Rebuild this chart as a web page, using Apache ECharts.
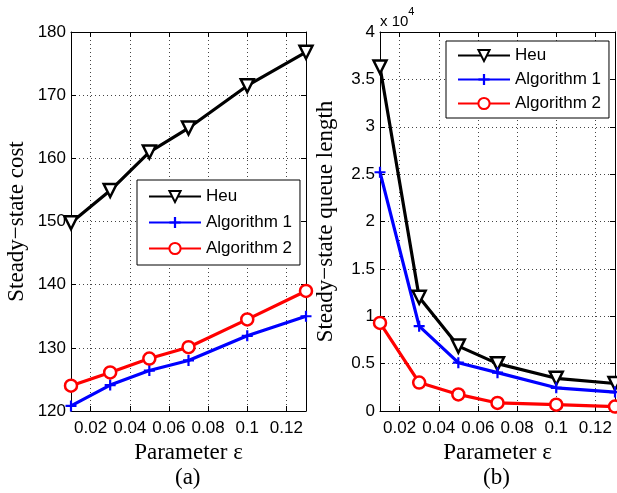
<!DOCTYPE html>
<html>
<head>
<meta charset="utf-8">
<script src="https://cdn.jsdelivr.net/npm/echarts@6/dist/echarts.min.js"></script>
<style>
  html, body { margin: 0; padding: 0; background: #fff; }
  #main { width: 617px; height: 493px; }
</style>
</head>
<body>
<div id="main"></div>
<script>
// parameter eps on the x axis (both panels)
var eps = [0.01, 0.03, 0.05, 0.07, 0.1, 0.13];
// (a) steady-state cost
var costHeu  = [149.8, 154.9, 161, 164.8, 171.5, 176.8];
var costAlg1 = [120.8, 124.1, 126.4, 128, 131.9, 135];
var costAlg2 = [124, 126.1, 128.3, 130.1, 134.5, 139];
// (b) steady-state queue length
var queueHeu  = [36300, 12000, 6850, 5000, 3450, 2900];
var queueAlg1 = [25200, 8950, 5100, 4050, 2450, 2000];
var queueAlg2 = [9300, 3000, 1750, 850, 670, 470];
var names = ['Heu', 'Algorithm 1', 'Algorithm 2'];

var plusPath = 'path://M4,0h2v4h4v2h-4v4h-2v-4h-4v-2h4z';
var sans = 'Liberation Sans';
var serif = 'Liberation Serif';

function pairs(ys) {
  return eps.map(function (x, i) { return [x, ys[i]]; });
}

function mkSeries(name, ys, idx) {
  var s = {
    name: name, type: 'line', data: pairs(ys),
    xAxisIndex: idx, yAxisIndex: idx,
    animation: false, z: 5, showAllSymbol: true
  };
  if (name == 'Heu') {
    s.color = '#000';
    s.symbol = 'triangle'; s.symbolRotate = 180; s.symbolSize = 13;
    s.itemStyle = { color: '#fff', borderColor: '#000', borderWidth: 2.5 };
  } else if (name == 'Algorithm 1') {
    s.color = '#0000ff';
    s.symbol = plusPath; s.symbolSize = 11;
    s.itemStyle = { color: '#0000ff', borderWidth: 0 };
  } else {
    s.color = '#ff0000';
    s.symbol = 'circle'; s.symbolSize = 12;
    s.itemStyle = { color: '#fff', borderColor: '#ff0000', borderWidth: 2.5 };
  }
  s.lineStyle = { width: 3.2, color: s.color };
  return s;
}

function xAx(grid, pos, main) {
  return {
    type: 'value', gridIndex: grid, position: pos,
    min: 0.01, max: 0.13,
    axisLine: { show: true, onZero: false, lineStyle: { color: '#000', width: 1 } },
    axisTick: { show: true, inside: true, length: 5, lineStyle: { color: '#000' } },
    axisLabel: main ? {
      show: true, color: '#000', fontFamily: sans, fontSize: 17, margin: 9,
      showMinLabel: false, showMaxLabel: false,
      formatter: function (v) { return String(+v.toFixed(2)); }
    } : { show: false },
    splitLine: main ? { show: true, lineStyle: { color: '#444', type: [1, 3], width: 1 } } : { show: false },
    name: main ? 'Parameter ε' : '',
    nameLocation: 'middle', nameGap: 25,
    nameTextStyle: { fontFamily: serif, fontSize: 23, color: '#000' }
  };
}

function yAx(grid, pos, main, min, max, step, fmt, title) {
  return {
    type: 'value', gridIndex: grid, position: pos,
    min: min, max: max, interval: step,
    axisLine: { show: true, onZero: false, lineStyle: { color: '#000', width: 1 } },
    axisTick: { show: true, inside: true, length: 5, lineStyle: { color: '#000' } },
    axisLabel: main ? { show: true, color: '#000', fontFamily: sans, fontSize: 17, margin: 5, formatter: fmt } : { show: false },
    splitLine: main ? { show: true, lineStyle: { color: '#444', type: [1, 3], width: 1 } } : { show: false },
    name: main ? title : '',
    nameLocation: 'middle', nameGap: 43,
    nameTextStyle: { fontFamily: serif, fontSize: 23, color: '#000' }
  };
}

function legend(left, top, pad, gap) {
  return {
    data: names, orient: 'vertical', left: left, top: top,
    itemWidth: 52, itemHeight: 14, itemGap: gap,
    padding: pad,
    backgroundColor: '#fff', borderColor: '#000', borderWidth: 1, borderRadius: 0,
    textStyle: { fontFamily: sans, fontSize: 17, color: '#000' },
    selectedMode: false
  };
}

var chart = echarts.init(document.getElementById('main'), null, { renderer: 'canvas' });
var option = {
  backgroundColor: '#fff',
  animation: false,
  grid: [
    { left: 71, top: 32, width: 235, height: 379 },
    { left: 380, top: 32, width: 235, height: 379 }
  ],
  xAxis: [xAx(0, 'bottom', true), xAx(1, 'bottom', true), xAx(0, 'top', false), xAx(1, 'top', false)],
  yAxis: [
    yAx(0, 'left', true, 120, 180, 10, null, 'Steady−state cost'),
    yAx(1, 'left', true, 0, 40000, 5000, function (v) { return String(v / 10000); }, 'Steady−state queue length'),
    yAx(0, 'right', false, 120, 180, 10),
    yAx(1, 'right', false, 0, 40000, 5000)
  ],
  legend: [legend(137, 180, [8, 8, 8, 11], 9), legend(446, 41, [6, 8, 6, 11], 7)],
  series: [
    mkSeries('Heu', costHeu, 0),
    mkSeries('Algorithm 1', costAlg1, 0),
    mkSeries('Algorithm 2', costAlg2, 0),
    mkSeries('Heu', queueHeu, 1),
    mkSeries('Algorithm 1', queueAlg1, 1),
    mkSeries('Algorithm 2', queueAlg2, 1)
  ],
  graphic: [
    { type: 'text', left: 175, top: 466, style: { text: '(a)', font: '23px "Liberation Serif"', fill: '#000' } },
    { type: 'text', left: 483, top: 466, style: { text: '(b)', font: '23px "Liberation Serif"', fill: '#000' } },
    { type: 'text', left: 380, top: 6, style: {
      text: '{b|x 10}{s|4}', fill: '#000',
      rich: { b: { fontFamily: sans, fontSize: 15, verticalAlign: 'bottom', padding: [8, 0, 0, 0] },
              s: { fontFamily: sans, fontSize: 11, verticalAlign: 'top' } } } }
  ]
};
chart.setOption(option);
</script>
</body>
</html>
